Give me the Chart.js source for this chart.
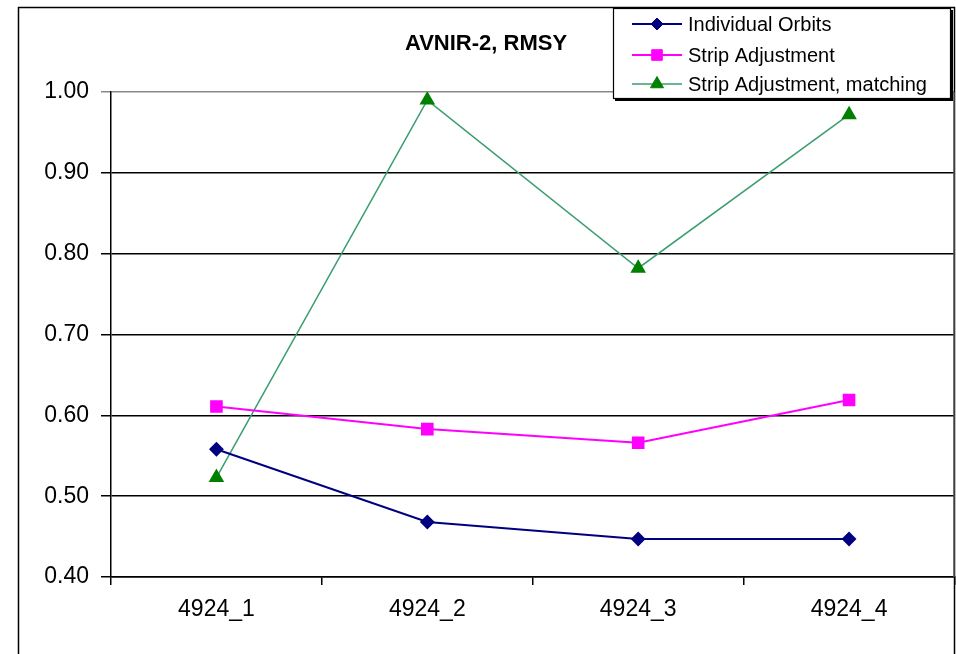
<!DOCTYPE html>
<html>
<head>
<meta charset="utf-8">
<script src="https://cdn.jsdelivr.net/npm/chart.js@4/dist/chart.umd.min.js"></script>
<style>
html,body{margin:0;padding:0;background:#fff;overflow:hidden;}
#wrap{width:956px;height:654px;position:relative;overflow:hidden;}
</style>
</head>
<body>
<div id="wrap"><canvas id="c" width="964" height="654"></canvas></div>
<script>
const categories = ['4924_1', '4924_2', '4924_3', '4924_4'];
const individualOrbits = [0.558, 0.468, 0.447, 0.447];
const stripAdjustment = [0.611, 0.583, 0.566, 0.619];
const stripAdjustmentMatching = [0.523, 0.990, 0.782, 0.972];
const seriesNames = ['Individual Orbits', 'Strip Adjustment', 'Strip Adjustment, matching'];
const yTicks = [0.40, 0.50, 0.60, 0.70, 0.80, 0.90, 1.00];
const chartTitle = 'AVNIR-2, RMSY';

const FONT = '"Liberation Sans", Arial, sans-serif';

const framePlugin = {
  id: 'frame',
  afterDraw(chart) {
    const ctx = chart.ctx;
    const ca = chart.chartArea;
    ctx.save();
    // outer chart border
    ctx.strokeStyle = '#000';
    ctx.lineWidth = 1.5;
    ctx.strokeRect(18.5, 7.5, 936, 700);
    // plot right border
    ctx.beginPath();
    ctx.moveTo(ca.right - 0.5, ca.top);
    ctx.lineTo(ca.right - 0.5, ca.bottom);
    ctx.strokeStyle = '#555';
    ctx.lineWidth = 1.5;
    ctx.stroke();
    // title
    ctx.fillStyle = '#000';
    ctx.font = 'bold 22px ' + FONT;
    ctx.textAlign = 'center';
    ctx.textBaseline = 'middle';
    ctx.fillText(chartTitle, 486, 44);
    // legend
    const lx = 613, ly = 8, lw = 338, lh = 91;
    ctx.fillStyle = '#000';
    ctx.fillRect(lx + 2, ly + 2, lw, lh);
    ctx.fillStyle = '#fff';
    ctx.fillRect(lx, ly, lw, lh);
    ctx.strokeStyle = '#000';
    ctx.lineWidth = 1.2;
    ctx.strokeRect(lx + 0.5, ly + 0.5, lw - 1, lh - 1);
    const rows = [24, 55, 84];
    chart.data.datasets.forEach((ds, i) => {
      const y = rows[i];
      ctx.beginPath();
      ctx.moveTo(632, y);
      ctx.lineTo(682, y);
      ctx.strokeStyle = ds.borderColor;
      ctx.lineWidth = ds.borderWidth;
      ctx.stroke();
      ctx.fillStyle = ds.pointBackgroundColor;
      ctx.strokeStyle = ds.pointBorderColor;
      ctx.lineWidth = 1;
      Chart.helpers.drawPoint(ctx, {pointStyle: ds.pointStyle, rotation: 0, radius: ds.pointRadius, borderWidth: 1}, 657, y);
      ctx.fillStyle = '#000';
      ctx.font = '20px ' + FONT;
      ctx.textAlign = 'left';
      ctx.textBaseline = 'middle';
      ctx.fillText(ds.label, 688, y + 1);
    });
    ctx.restore();
  }
};

new Chart(document.getElementById('c'), {
  type: 'line',
  data: {
    labels: categories,
    datasets: [
      {
        label: seriesNames[0], data: individualOrbits,
        borderColor: '#000080', borderWidth: 2,
        pointStyle: 'rectRot', pointRadius: 6,
        pointBackgroundColor: '#000080', pointBorderColor: '#000080'
      },
      {
        label: seriesNames[1], data: stripAdjustment,
        borderColor: '#FF00FF', borderWidth: 2,
        pointStyle: 'rect', pointRadius: 7.5,
        pointBackgroundColor: '#FF00FF', pointBorderColor: '#FF00FF'
      },
      {
        label: seriesNames[2], data: stripAdjustmentMatching,
        borderColor: '#3A9E6E', borderWidth: 1.5,
        pointStyle: 'triangle', pointRadius: 7.5,
        pointBackgroundColor: '#008000', pointBorderColor: '#008000'
      }
    ]
  },
  options: {
    responsive: false,
    animation: false,
    devicePixelRatio: 1,
    layout: { padding: { left: 18, top: 92, right: 2, bottom: 0 } },
    plugins: { legend: { display: false }, title: { display: false }, tooltip: { enabled: false } },
    elements: { line: { tension: 0 } },
    scales: {
      x: {
        type: 'category',
        offset: true,
        grid: { offset: true, drawOnChartArea: false, drawTicks: true, tickLength: 8, color: '#000', lineWidth: 1.5 },
        border: { color: '#000', width: 1.5 },
        ticks: { color: '#000', font: { family: FONT, size: 23 }, padding: 11, maxRotation: 0 },
        afterFit(s) { s.height = 77; }
      },
      y: {
        min: yTicks[0], max: yTicks[yTicks.length - 1],
        afterBuildTicks(s) { s.ticks = yTicks.map(v => ({ value: v })); },
        grid: {
          drawTicks: true, tickLength: 10, lineWidth: 1.5,
          color: (c) => (c.tick && Math.abs(c.tick.value - 1.0) < 1e-6) ? '#888' : '#000'
        },
        border: { color: '#000', width: 1.5 },
        ticks: { color: '#000', font: { family: FONT, size: 23 }, padding: 12, callback: (v) => Number(v).toFixed(2) },
        afterFit(s) { s.width = 93; }
      }
    }
  },
  plugins: [framePlugin]
});
</script>
</body>
</html>
